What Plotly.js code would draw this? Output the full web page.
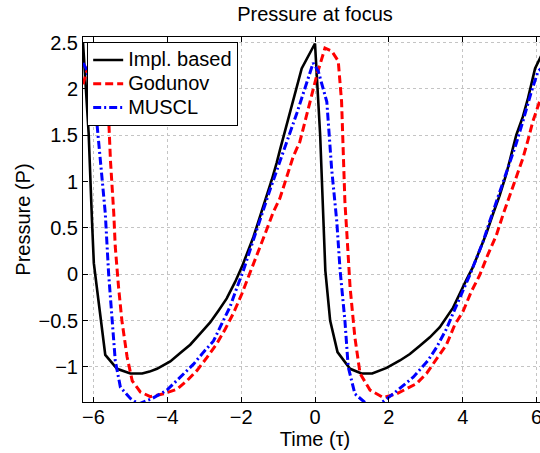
<!DOCTYPE html>
<html>
<head>
<meta charset="utf-8">
<script src="https://cdn.plot.ly/plotly-3.0.1.min.js"></script>
<style>
  html, body { margin: 0; padding: 0; overflow: hidden; background: #fff; }
  #chart { width: 560px; height: 453px; }
</style>
</head>
<body>
<div id="chart"></div>
<script>
// ---- Data ----
const seriesNames = ["Impl. based", "Godunov", "MUSCL"];

const timeImpl = [-6.283,-6.13,-6.04,-5.99,-5.90,-5.68,-5.36,-5.00,-4.68,-4.48,-4.28,-4.10,-3.92,-3.65,-3.38,-3.11,-2.84,-2.61,-2.39,-2.16,-1.98,-1.67,-1.49,-1.31,-1.17,-1.04,-0.95,-0.36,0,0.14,0.25,0.28,0.41,0.61,0.95,1.26,1.55,1.94,2.30,2.57,2.84,3.11,3.38,3.74,4.10,4.28,4.46,4.64,4.82,5.00,5.18,5.32,5.45,5.63,5.77,5.96,6.283];
const pImpl = [2.50,1.52,0.58,0.12,-0.17,-0.87,-1.02,-1.07,-1.07,-1.05,-1.02,-0.98,-0.94,-0.85,-0.76,-0.64,-0.52,-0.39,-0.26,-0.08,0.08,0.40,0.62,0.84,1.02,1.20,1.34,2.22,2.49,1.50,0.49,0.04,-0.50,-0.84,-1.02,-1.07,-1.07,-1.01,-0.93,-0.86,-0.77,-0.68,-0.57,-0.36,-0.06,0.08,0.26,0.44,0.65,0.85,1.08,1.29,1.50,1.70,1.90,2.22,2.49];

const timeGodunov = [-6.283,-6.00,-5.80,-5.68,-5.60,-5.54,-5.45,-5.41,-5.32,-5.23,-5.09,-4.95,-4.73,-4.46,-4.10,-3.74,-3.47,-3.20,-2.93,-2.66,-2.43,-2.21,-1.98,-1.76,-1.53,-1.31,-1.13,-0.95,-0.59,-0.41,0.05,0.27,0.45,0.63,0.72,0.81,0.86,0.95,1.08,1.22,1.49,1.85,2.21,2.75,3.02,3.29,3.56,3.78,4.01,4.23,4.46,4.68,4.91,5.09,5.27,5.45,5.63,5.77,5.90,6.08,6.283];
const pGodunov = [2.05,2.44,2.40,2.30,1.80,1.23,0.66,0.30,-0.14,-0.50,-0.89,-1.15,-1.27,-1.32,-1.29,-1.24,-1.15,-1.04,-0.90,-0.75,-0.59,-0.42,-0.21,0.01,0.24,0.48,0.67,0.82,1.27,1.43,2.15,2.44,2.41,2.30,1.86,0.78,0.46,-0.14,-0.68,-1.07,-1.25,-1.33,-1.29,-1.18,-1.07,-0.92,-0.76,-0.55,-0.40,-0.19,-0.01,0.21,0.42,0.64,0.85,1.05,1.25,1.45,1.65,1.86,2.05];

const timeMuscl = [-6.283,-6.20,-5.96,-5.88,-5.81,-5.68,-5.59,-5.50,-5.41,-5.27,-5.00,-4.78,-4.41,-4.01,-3.83,-3.56,-3.29,-3.02,-2.75,-2.52,-2.30,-2.12,-1.94,-1.76,-1.58,-1.40,-1.22,-0.86,-0.49,-0.05,0.09,0.32,0.45,0.59,0.68,0.81,0.90,1.08,1.40,1.75,2.12,2.66,3.06,3.29,3.56,3.74,3.92,4.19,4.37,4.55,4.73,4.91,5.09,5.27,5.45,5.63,5.86,6.04,6.283];
const pMuscl = [2.28,2.22,1.86,1.50,1.23,0.66,0.01,-0.50,-0.93,-1.22,-1.34,-1.40,-1.34,-1.25,-1.18,-1.08,-0.97,-0.84,-0.72,-0.53,-0.35,-0.15,0.04,0.26,0.48,0.69,0.91,1.32,1.74,2.28,2.19,1.86,1.14,0.57,0.04,-0.50,-1.00,-1.29,-1.40,-1.40,-1.29,-1.11,-0.93,-0.79,-0.59,-0.42,-0.26,-0.01,0.17,0.35,0.57,0.78,0.98,1.18,1.41,1.65,1.97,2.19,2.28];

const xTickVals = [-6,-4,-2,0,2,4,6];
const yTickVals = [-1,-0.5,0,0.5,1,1.5,2,2.5];

const FONT = "Liberation Sans, Arial, Helvetica, sans-serif";
// legend label text rendered at 20px while keeping the tighter row spacing of a smaller legend font
const legendLabel = (s) => '<span style="font-size:20px">' + s + '</span>';

const traces = [
  { x: timeImpl, y: pImpl, name: legendLabel(seriesNames[0]), type: "scatter", mode: "lines",
    line: { color: "#000000", width: 2.6 } },
  { x: timeGodunov, y: pGodunov, name: legendLabel(seriesNames[1]), type: "scatter", mode: "lines",
    line: { color: "#ff0000", width: 3, dash: "8px,4px" } },
  { x: timeMuscl, y: pMuscl, name: legendLabel(seriesNames[2]), type: "scatter", mode: "lines",
    line: { color: "#0000ff", width: 3, dash: "8px,3px,2px,3px" } }
];

const axisCommon = {
  showline: true, linecolor: "#000", linewidth: 1, mirror: "ticks",
  ticks: "inside", ticklen: 5, tickwidth: 1, tickcolor: "#000",
  showgrid: true, gridcolor: "#c4c4c4", gridwidth: 1, griddash: "dot",
  zeroline: false,
  tickfont: { family: FONT, size: 20, color: "#000" }
};

const layout = {
  width: 560, height: 453,
  margin: { l: 83, r: 13, t: 37, b: 51, pad: 0 },
  paper_bgcolor: "#fff", plot_bgcolor: "#fff",
  font: { family: FONT, size: 20, color: "#000" },
  title: { text: "Pressure at focus", font: { family: FONT, size: 20, color: "#000" },
           xref: "paper", x: 0.5, xanchor: "center", yref: "container", y: 1 - 14/453, yanchor: "middle" },
  xaxis: Object.assign({}, axisCommon, {
    range: [-6.2832, 6.2832], tickvals: xTickVals, ticklabelstandoff: -3,
    title: { text: "Time (τ)", font: { family: FONT, size: 20, color: "#000" }, standoff: 0 }
  }),
  yaxis: Object.assign({}, axisCommon, {
    range: [-1.378, 2.56], tickvals: yTickVals,
    title: { text: "Pressure (P)", font: { family: FONT, size: 20, color: "#000" }, standoff: 2 }
  }),
  showlegend: true,
  legend: {
    x: 0.009, y: 0.986, xanchor: "left", yanchor: "top",
    bgcolor: "#fff", bordercolor: "#000", borderwidth: 1,
    font: { family: FONT, size: 16, color: "#000" },
    tracegroupgap: 0
  }
};

Plotly.newPlot("chart", traces, layout, { staticPlot: true, displayModeBar: false });
</script>
</body>
</html>
